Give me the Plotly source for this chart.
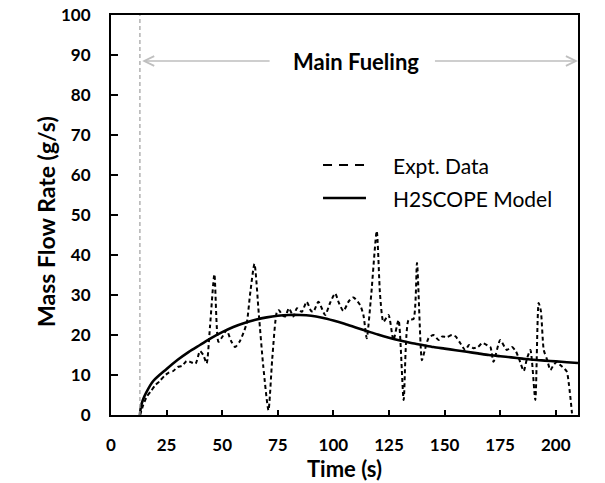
import plotly.graph_objects as go

# Measured mass flow rate during the main fueling period
expt_time = [13, 14.5, 16, 18, 20, 22, 24, 26, 28, 30, 32, 34, 36, 38, 40, 41.5, 43,
             44.5, 46.5, 48.3, 50, 52, 54, 55.8, 58, 61, 62.5, 64.5, 66.5, 68.5, 70.8,
             72.5, 74.6, 75.5, 77, 78.3, 80, 82, 83.6, 85.8, 88, 90, 91, 93.3, 96.3,
             98.5, 100.8, 102.5, 104.5, 107, 109, 112, 113.5, 115, 117, 119.5, 121,
             122.5, 124.8, 127, 129.3, 131.6, 133.8, 136, 137.6, 139.8, 141, 142.8,
             145, 147.3, 148.8, 151, 153.3, 155, 157, 159.3, 161, 163, 165, 167, 169,
             170.6, 172, 175, 177, 178, 180.3, 182, 183.5, 185.6, 187, 188.6, 190.8,
             192.3, 193.3, 194.6, 196, 197.6, 199, 200.6, 202, 204, 205, 207.3]
expt_flow = [0, 2.5, 4.5, 6, 7.5, 8.5, 9.8, 10.6, 11, 12, 12.3, 13.5, 13.2, 12.8, 16, 15, 12.9,
             22, 35.2, 18.3, 19.5, 21.2, 18.5, 17, 18.5, 22.9, 30, 37.8, 25, 12, 1.2,
             14, 25.8, 26.2, 25, 24.6, 26.7, 24.6, 26.7, 25.8, 28.3, 26, 25.8, 28.3, 25,
             28, 30.4, 28, 26, 28.5, 29.4, 27.5, 25, 19.2, 30, 46, 30,
             23.3, 25, 18.75, 23.75, 3.75, 23.75, 24, 38, 13.7, 16, 19.2,
             20, 18.75, 19.6, 19.5, 20, 19.6, 18, 16.25, 17.5, 16.7, 17, 18, 17.5,
             17, 13.3, 18.75, 17, 16.25, 17, 16, 14, 11, 14, 16.25, 3.75,
             28, 26, 16.25, 14, 11.25, 12.5, 13.3, 12.5, 11.5, 10.8, 0.4]

# H2SCOPE model prediction
model_time = [13, 13.5, 14.5, 16, 19, 25, 30, 35, 40, 45, 50, 55, 60, 65, 70, 75, 80, 85, 90,
              95, 100, 105, 110, 115, 120, 125, 130, 135, 140, 145, 150, 155, 160,
              165, 170, 175, 180, 185, 190, 195, 200, 205, 210]
model_flow = [0, 2.2, 4, 5.8, 8.5, 11.5, 13.8, 15.8, 17.5, 19.2, 20.7, 22, 23, 23.8, 24.4,
              24.8, 25, 25, 24.8, 24.3, 23.6, 22.8, 21.9, 21, 20.1, 19.3, 18.6, 18,
              17.5, 17, 16.6, 16.2, 15.8, 15.4, 15, 14.7, 14.4, 14.1, 13.8, 13.6,
              13.4, 13.2, 13]

x_ticks = [0, 25, 50, 75, 100, 125, 150, 175, 200]
y_ticks = [0, 10, 20, 30, 40, 50, 60, 70, 80, 90, 100]

series_names = ["Expt. Data", "H2SCOPE Model"]

fueling_start = 13
fueling_end = 210
arrow_level = 88.5

FONT = "Lato"

fig = go.Figure()

fig.add_trace(go.Scatter(
    x=expt_time, y=expt_flow, mode="lines", name=series_names[0],
    line=dict(color="black", width=2, dash="4px,3px", shape="spline", smoothing=0.6),
))
fig.add_trace(go.Scatter(
    x=model_time, y=model_flow, mode="lines", name=series_names[1],
    line=dict(color="black", width=2.6, shape="spline", smoothing=0.8),
))

# start of main fueling
fig.add_shape(type="line", x0=fueling_start, x1=fueling_start, y0=0, y1=100,
              xref="x", yref="y", line=dict(color="#a6a6a6", width=1.3, dash="4px,3px"))

# "Main Fueling" span arrows
arrow_style = dict(showarrow=True, arrowhead=5, arrowsize=1.3, arrowwidth=1.5,
                   arrowcolor="#bfbfbf", text="", xref="x", yref="y",
                   axref="x", ayref="y")
fig.add_annotation(x=fueling_start + 1, y=arrow_level, ax=72, ay=arrow_level, **arrow_style)
fig.add_annotation(x=fueling_end, y=arrow_level, ax=145, ay=arrow_level, **arrow_style)
fig.add_annotation(x=110, y=arrow_level, text="<b>Main Fueling</b>", showarrow=False,
                   xref="x", yref="y", font=dict(family=FONT, size=22, color="black"))

# legend key, drawn in the upper middle of the plot area
legend_rows = [(0.625, "9px,7px", 2.2), (0.5425, "solid", 2.6)]
for (ypos, dash, w), name in zip(legend_rows, series_names):
    fig.add_shape(type="line", xref="paper", yref="paper", x0=0.454, x1=0.546,
                  y0=ypos, y1=ypos, line=dict(color="black", width=w, dash=dash))
    fig.add_annotation(xref="paper", yref="paper", x=0.6, y=ypos, text=name,
                       showarrow=False, xanchor="left", yanchor="middle",
                       font=dict(family=FONT, size=21, color="black"))

# y-axis title, placed as a rotated annotation
fig.add_annotation(xref="paper", yref="paper", x=-0.139, y=0.483,
                   text="<b>Mass Flow Rate (g/s)</b>", textangle=-90, showarrow=False,
                   xanchor="center", yanchor="middle",
                   font=dict(family=FONT, size=23, color="black"))

axis_common = dict(showline=True, linecolor="black", linewidth=2, mirror=True,
                   ticks="inside", tickcolor="black", tickwidth=1.5,
                   showgrid=False, zeroline=False, automargin=False,
                   tickfont=dict(family=FONT, size=17, color="black"))

fig.update_xaxes(range=[0, 210], tickvals=x_ticks,
                 ticktext=[f"<b>{v}</b>" for v in x_ticks],
                 ticklen=5, ticklabelstandoff=14,
                 title=dict(text="<b>Time (s)</b>", standoff=2,
                            font=dict(family=FONT, size=22, color="black")),
                 **axis_common)
fig.update_yaxes(range=[0, 100], tickvals=y_ticks,
                 ticktext=[f"<b>{v}</b>" for v in y_ticks],
                 ticklen=7, ticklabelstandoff=15,
                 **axis_common)

fig.update_layout(
    width=605, height=483,
    margin=dict(l=111, r=27, t=15, b=68),
    paper_bgcolor="white", plot_bgcolor="white",
    showlegend=False,
    font=dict(family=FONT),
)

fig.write_html("out.html")
